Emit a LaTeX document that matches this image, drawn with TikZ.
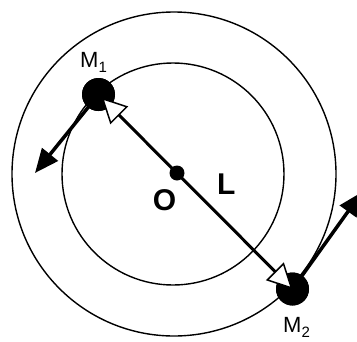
\documentclass[tikz,border=0pt]{standalone}
\usepackage{fontspec}
\setmainfont{Liberation Sans}
\usetikzlibrary{arrows.meta,calc}
\newcommand\masslbl[2]{#1\raisebox{-5pt}{\fontsize{15}{15}\selectfont #2}}
\begin{document}
\begin{tikzpicture}[x=1pt,y=-1pt,
  orbit/.style={line width=1.4pt},
  mass/.style={circle,fill=black,inner sep=0pt,minimum size=33pt},
  pivot/.style={circle,fill=black,inner sep=0pt,minimum size=15pt},
  whitetip/.tip={Triangle[length=25pt 0 0,width=25pt 0 0,fill=white,line width=1.5pt]},
  rod/.style={line width=3pt,whitetip-whitetip},
  vel/.style={line width=3.5pt,-{Triangle[length=24pt 0 0,width=20pt 0 0]}},
  masstext/.style={font=\fontsize{22}{22}\selectfont,inner sep=0pt,anchor=base west},
  bigtext/.style={font=\fontsize{30}{30}\selectfont\bfseries,inner sep=0pt}]
\useasboundingbox (0,0) rectangle (357,341);
\clip (0,0) rectangle (357,341);
% orbits
\draw[orbit] (173,174) circle[radius=111pt];
\draw[orbit] (174,174) circle[radius=162pt];
% positions
\coordinate (v1) at (35,173);
\coordinate (v2) at (362,192);
\node[mass] (M1) at (98.5,94.5) {};
\node[mass] (M2) at (292.5,289) {};
% velocity arrows
\draw[vel] (M1.center) -- (v1);
\draw[vel] (M2.center) -- (v2);
\node[mass] at (M1.center) {};
\node[mass] at (M2.center) {};
% rod with open tips
\draw[rod, shorten <=4.5pt] (M1.center) -- (M2.center);
\node[pivot] (O) at (177,173) {};
% labels
\node[masstext] (lM1) at (80,67) {\masslbl{M}{1}};
\node[masstext] (lM2) at (283,332.5) {\masslbl{M}{2}};
\node[bigtext,anchor=base] (lO) at (164.5,210) {O};
\node[bigtext,anchor=base west] (lL) at (217,194.5) {L};
\end{tikzpicture}
\end{document}
